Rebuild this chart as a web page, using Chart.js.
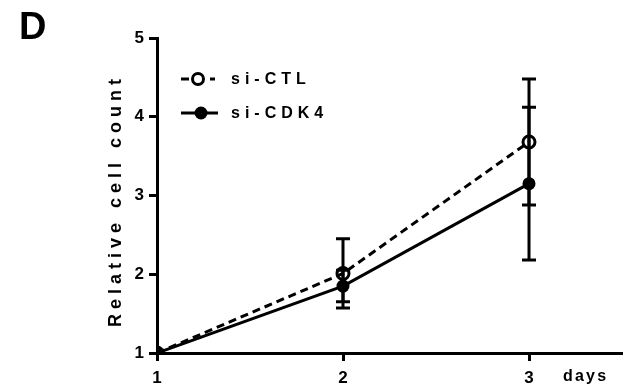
<!DOCTYPE html>
<html>
<head>
<meta charset="utf-8">
<script src="https://cdn.jsdelivr.net/npm/chart.js@4"></script>
<style>
  html, body { margin: 0; padding: 0; background: #fff; }
  #wrap { width: 631px; height: 390px; }
</style>
</head>
<body>
<div id="wrap"><canvas id="c" width="631" height="390"></canvas></div>
<script>
// values
const days = [1, 2, 3];
const ctlMean = [1.0, 2.01, 3.68];
const ctlErr = [0, 0.44, 0.80];
const cdkMean = [1.0, 1.85, 3.15];
const cdkErr = [0, 0.20, 0.97];
const yTicks = [1, 2, 3, 4, 5];
const seriesNames = ['si-CTL', 'si-CDK4'];

const FONT = '"Liberation Sans", Arial, sans-serif';

function toPoints(xs, ys) {
  return xs.map((x, i) => ({ x: x, y: ys[i] }));
}

// error bars, drawn with the chart's own scales
const errorBars = {
  id: 'errorBars',
  afterDatasetsDraw(chart) {
    const ctx = chart.ctx;
    const xs = chart.scales.x, ys = chart.scales.y;
    const sets = [[ctlMean, ctlErr], [cdkMean, cdkErr]];
    ctx.save();
    ctx.strokeStyle = '#000';
    ctx.lineWidth = 3;
    sets.forEach(([m, e]) => {
      days.forEach((d, i) => {
        if (!e[i]) return;
        const px = xs.getPixelForValue(d);
        const top = ys.getPixelForValue(m[i] + e[i]);
        const bot = ys.getPixelForValue(m[i] - e[i]);
        ctx.beginPath();
        ctx.moveTo(px, top); ctx.lineTo(px, bot);
        ctx.moveTo(px - 7, top); ctx.lineTo(px + 7, top);
        ctx.moveTo(px - 7, bot); ctx.lineTo(px + 7, bot);
        ctx.stroke();
      });
    });
    ctx.restore();
  }
};

// panel letter, axis titles and legend (spaced bold text)
const decorations = {
  id: 'decorations',
  afterDraw(chart) {
    const ctx = chart.ctx;
    const area = chart.chartArea;
    ctx.save();
    ctx.fillStyle = '#000';
    ctx.textBaseline = 'middle';

    ctx.font = 'bold 38px ' + FONT;
    ctx.textAlign = 'left';
    ctx.fillText('D', 19, 29);

    ctx.font = 'bold 16px ' + FONT;
    ctx.letterSpacing = '2.2px';
    ctx.fillText('days', 563, 377);

    ctx.save();
    ctx.translate(116, (area.top + area.bottom) / 2 + 5);
    ctx.rotate(-Math.PI / 2);
    ctx.textAlign = 'center';
    ctx.font = 'bold 18px ' + FONT;
    ctx.letterSpacing = '5px';
    ctx.fillText('Relative cell count', 0, 0);
    ctx.restore();

    // legend
    ctx.lineWidth = 3;
    ctx.strokeStyle = '#000';
    const rows = [79, 113];
    rows.forEach((y, i) => {
      ctx.beginPath();
      if (i === 0) {
        ctx.moveTo(181, y); ctx.lineTo(189, y);
        ctx.moveTo(210, y); ctx.lineTo(215, y);
      } else {
        ctx.moveTo(181, y); ctx.lineTo(218, y);
      }
      ctx.stroke();
      ctx.beginPath();
      const cx = i === 0 ? 198 : 201;
      ctx.arc(cx, y, i === 0 ? 5.5 : 6.5, 0, Math.PI * 2);
      if (i === 0) { ctx.fillStyle = '#fff'; ctx.fill(); ctx.stroke(); ctx.fillStyle = '#000'; }
      else ctx.fill();
      ctx.letterSpacing = '5px';
      ctx.textAlign = 'left';
      ctx.font = 'bold 16px ' + FONT;
      ctx.fillText(seriesNames[i], 231, y + 1);
    });
    ctx.restore();
  }
};

new Chart(document.getElementById('c'), {
  type: 'line',
  data: {
    datasets: [{
      label: seriesNames[0],
      data: toPoints(days, ctlMean),
      borderColor: '#000',
      borderWidth: 3,
      borderDash: [8, 5],
      pointRadius: 6,
      pointBorderWidth: 3,
      pointBackgroundColor: 'rgba(255,255,255,0)',
      pointBorderColor: '#000',
      tension: 0
    }, {
      label: seriesNames[1],
      data: toPoints(days, cdkMean),
      borderColor: '#000',
      borderWidth: 3,
      pointRadius: 6.5,
      pointBorderWidth: 0,
      pointBackgroundColor: '#000',
      tension: 0
    }]
  },
  options: {
    responsive: false,
    animation: false,
    layout: { padding: { top: 38, right: 9, left: 0, bottom: 0 } },
    plugins: { legend: { display: false }, tooltip: { enabled: false } },
    scales: {
      x: {
        type: 'linear',
        min: 1,
        max: 3.5,
        border: { color: '#000', width: 3 },
        grid: { drawOnChartArea: false, color: '#000', tickLength: 8, tickWidth: 3, tickColor: '#000' },
        ticks: {
          stepSize: 1,
          includeBounds: false,
          color: '#000',
          padding: 7,
          font: { family: FONT, size: 17, weight: 'bold' }
        },
        afterFit: (s) => { s.height = 37; }
      },
      y: {
        min: 1,
        max: 5,
        border: { color: '#000', width: 3 },
        grid: { drawOnChartArea: false, color: '#000', tickLength: 8, tickWidth: 3, tickColor: '#000' },
        afterBuildTicks: (s) => { s.ticks = yTicks.map(v => ({ value: v })); },
        ticks: {
          color: '#000',
          padding: 5,
          font: { family: FONT, size: 17, weight: 'bold' }
        },
        afterFit: (s) => { s.width = 157; }
      }
    }
  },
  plugins: [errorBars, decorations]
});
</script>
</body>
</html>
